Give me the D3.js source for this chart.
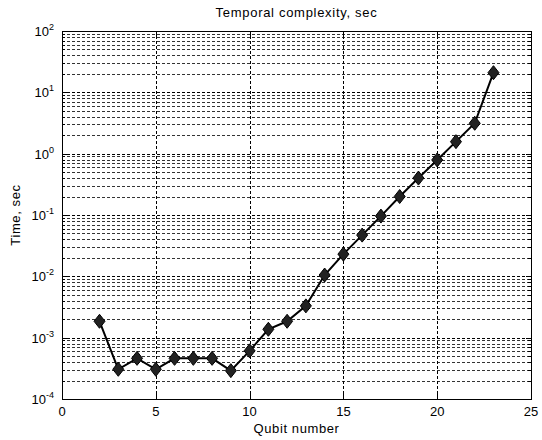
<html>
<head>
<script src="https://d3js.org/d3.v7.min.js"></script>
<style>
  body { margin:0; background:#fff; }
  text { font-family: "Liberation Sans", Arial, sans-serif; fill:#000; }
</style>
</head>
<body>
<svg id="chart" width="542" height="440"></svg>
<script>
// data
const qubits = [2,3,4,5,6,7,8,9,10,11,12,13,14,15,16,17,18,19,20,21,22,23];
const times  = [1.85e-3,3.05e-4,4.6e-4,3.05e-4,4.6e-4,4.6e-4,4.6e-4,2.9e-4,6.1e-4,1.37e-3,1.85e-3,3.3e-3,
                1.05e-2,2.3e-2,4.7e-2,9.6e-2,2.0e-1,4.0e-1,7.9e-1,1.57,3.13,20.9];
const xTicks = [0,5,10,15,20,25];
const yExps  = [-4,-3,-2,-1,0,1,2];

const title = "Temporal complexity, sec";
const xLabel = "Qubit number";
const yLabel = "Time, sec";

const svg = d3.select("#chart");
const L = 62, R = 531, T = 31, B = 399;

const x = d3.scaleLinear().domain([0,25]).range([L,R]);
const y = d3.scaleLog().domain([1e-4,1e2]).range([B,T]);

let grid = svg.append("g");

// horizontal grid (major + minor)
let minors = [];
for (let e = -4; e < 2; e++) {
  for (let k = 1; k <= 9; k++) minors.push({v: k*Math.pow(10,e), major: k==1});
}
minors = minors.filter(d => d.v > 1e-4);
grid.selectAll("line.h").data(minors).enter().append("line")
  .attr("x1", L).attr("x2", R)
  .attr("y1", d => Math.round(y(d.v))+0.5).attr("y2", d => Math.round(y(d.v))+0.5)
  .attr("stroke", d => d.major ? "#000" : "#333")
  .attr("stroke-width", 1)
  .attr("stroke-dasharray", "3,2");

// vertical grid
grid.selectAll("line.v").data(xTicks.slice(1,-1)).enter().append("line")
  .attr("y1", T).attr("y2", B)
  .attr("x1", d => Math.round(x(d))+0.5).attr("x2", d => Math.round(x(d))+0.5)
  .attr("stroke", "#000").attr("stroke-width", 1)
  .attr("stroke-dasharray", "3,2");

// ticks inside the box
let tk = svg.append("g").attr("stroke","#000").attr("stroke-width",1);
minors.concat([{v:1e-4, major:true}]).forEach(d => {
  let yy = Math.round(y(d.v))+0.5, len = d.major ? 5 : 3;
  tk.append("line").attr("x1", L).attr("x2", L+len).attr("y1", yy).attr("y2", yy);
  tk.append("line").attr("x1", R).attr("x2", R-len).attr("y1", yy).attr("y2", yy);
});
xTicks.forEach(d => {
  let xx = Math.round(x(d))+0.5;
  tk.append("line").attr("x1", xx).attr("x2", xx).attr("y1", B).attr("y2", B-5);
  tk.append("line").attr("x1", xx).attr("x2", xx).attr("y1", T).attr("y2", T+5);
});

// box
svg.append("rect").attr("x", L+0.5).attr("y", T+0.5)
  .attr("width", R-L).attr("height", B-T)
  .attr("fill","none").attr("stroke","#000").attr("stroke-width",1);

// x tick labels
svg.selectAll("text.xt").data(xTicks).enter().append("text")
  .attr("x", d => x(d)).attr("y", B+17)
  .attr("text-anchor","middle").attr("font-size", 13)
  .text(d => d);

// y tick labels 10^n
let yt = svg.selectAll("text.yt").data(yExps).enter().append("text")
  .attr("x", L-8).attr("y", d => y(Math.pow(10,d))+5)
  .attr("text-anchor","end").attr("font-size", 13);
yt.append("tspan").text("10");
yt.append("tspan").attr("dy", -6).attr("font-size", 9).text(d => d);

// line + markers
const line = d3.line().x((d,i) => x(qubits[i])).y(d => y(d));
svg.append("path").datum(times)
  .attr("d", line).attr("fill","none")
  .attr("stroke","#000").attr("stroke-width",2);

svg.selectAll("path.m").data(times).enter().append("path")
  .attr("d", "M0,-7L5.5,0L0,7L-5.5,0Z")
  .attr("transform", (d,i) => `translate(${x(qubits[i])},${y(d)})`)
  .attr("fill","#222").attr("stroke","#000").attr("stroke-width",1);

// labels
svg.append("text").attr("x", (L+R)/2).attr("y", 17)
  .attr("text-anchor","middle").attr("font-size", 13).attr("letter-spacing", 0.7).text(title);
svg.append("text").attr("x", (L+R)/2).attr("y", 433)
  .attr("text-anchor","middle").attr("font-size", 13).attr("letter-spacing", 0.6).text(xLabel);
svg.append("text").attr("transform", `translate(20,${(T+B)/2}) rotate(-90)`)
  .attr("text-anchor","middle").attr("font-size", 13).attr("letter-spacing", 0.6).text(yLabel);
</script>
</body>
</html>
